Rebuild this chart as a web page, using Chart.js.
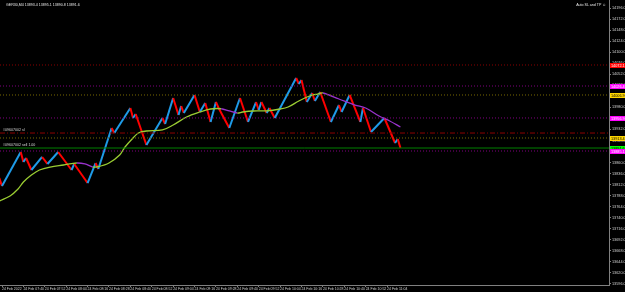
<!DOCTYPE html>
<html>
<head>
<meta charset="utf-8">
<script src="https://cdn.jsdelivr.net/npm/chart.js@4.4.1/dist/chart.umd.min.js"></script>
<style>
  html,body{margin:0;padding:0;background:#000;}
  #wrap{position:relative;width:625px;height:292px;overflow:hidden;}
  .hdr{position:absolute;top:3px;font:3.6px 'Liberation Sans',sans-serif;color:#e6e6e6;white-space:nowrap;}
</style>
</head>
<body>
<div id="wrap">
  <canvas id="chart" width="625" height="292"></canvas>
  <div class="hdr" style="left:6px">GER30,M4 13893.4 13895.1 13890.8 13891.6</div>
  <div class="hdr" style="right:19px">Auto SL and TP &#9786;</div>
</div>
<script>
// ---------- Data ----------
const timeLabels = [
  '24 Feb 2022', '24 Feb 07:40', '24 Feb 07:52', '24 Feb 08:04', '24 Feb 08:16',
  '24 Feb 08:28', '24 Feb 08:40', '24 Feb 08:52', '24 Feb 09:04', '24 Feb 09:16',
  '24 Feb 09:28', '24 Feb 09:40', '24 Feb 09:52', '24 Feb 10:04', '24 Feb 10:16',
  '24 Feb 10:28', '24 Feb 10:40', '24 Feb 10:52', '24 Feb 11:04'
];

const priceTicks = [
  14196.0, 14172.0, 14148.0, 14124.0, 14100.0, 14076.0, 14052.0, 14028.0, 14004.0,
  13980.0, 13956.0, 13932.0, 13908.0, 13884.0, 13860.0, 13836.0, 13812.0, 13788.0,
  13764.0, 13740.0, 13716.0, 13692.0, 13668.0, 13644.0, 13620.0, 13596.0
];

// renko zigzag turning points: bar index / price
const zigBars = [
  0, 1, 8, 9, 10, 12, 16, 18, 22, 27, 28, 33, 36, 37, 42, 43, 49, 50, 51, 55,
  61, 62, 65, 67, 68, 69, 73, 75, 77, 79, 81, 82, 86, 90, 93, 96, 97, 98, 100, 101,
  103, 111, 112, 113, 115, 117, 118, 120, 124, 127, 128, 131, 135, 136, 139, 144, 148, 149, 150
];
const zigPrices = [
  13826.4, 13809.0, 13882.9, 13861.2, 13869.9, 13843.8, 13872.1, 13856.9, 13882.9, 13843.8,
  13856.9, 13815.5, 13859.0, 13846.0, 13935.1, 13924.2, 13978.6, 13956.9, 13965.6, 13898.2,
  13956.9, 13943.8, 14000.3, 13963.4, 13982.9, 13967.7, 14006.9, 13969.9, 13989.5, 13948.2,
  13991.6, 13978.6, 13935.1, 14000.3, 13948.2, 13991.6, 13974.3, 13991.6, 13967.7, 13978.6,
  13956.9, 14043.8, 14030.8, 14039.5, 13991.6, 14011.2, 13993.8, 14013.4, 13948.2, 13985.1,
  13969.9, 14006.9, 13948.2, 13978.6, 13926.4, 13956.9, 13902.5, 13911.2, 13891.6
];

// moving average
const maBars = [
  0, 4, 7, 9, 12, 15, 19, 24, 29, 32, 35, 37, 41, 45, 47, 50, 52, 55, 61, 65,
  70, 75, 79, 83, 86, 89, 91, 95, 100, 105, 108, 112, 116, 119, 121, 127, 133, 137, 142, 146, 150
];
const maPrices = [
  13776.4, 13787.3, 13802.5, 13817.7, 13832.9, 13843.8, 13850.3, 13854.7, 13859.0, 13856.9,
  13850.3, 13851.0, 13859.0, 13876.4, 13893.8, 13913.4, 13924.2, 13928.6, 13930.8, 13941.6,
  13959.0, 13969.9, 13976.4, 13977.0, 13972.1, 13967.7, 13969.9, 13972.1, 13972.5, 13976.4,
  13980.8, 13993.8, 14004.7, 14009.0, 14011.2, 13998.2, 13985.1, 13978.6, 13961.2, 13950.3, 13937.3
];

// horizontal levels (order / sl / tp lines)
const levelPrices = [14072.1, 14026.4, 14006.9, 13956.9, 13924.2, 13913.4, 13891.6, 13885.1];
const orderNames = ['', '', '', '', '#09607002 sl', '', '#09607002 sell 1.00', ''];

// ---------- Styles ----------
const levelStyles = [
  {line: '#8b0000', dash: [1, 2], box: '#ff0000', text: '#ffffff'},
  {line: '#800080', dash: [1, 2], box: '#ff00ff', text: '#ffffff'},
  {line: '#7a6a00', dash: [1, 2], box: '#ffd700', text: '#000000'},
  {line: '#800080', dash: [1, 2], box: '#ff00ff', text: '#ffffff'},
  {line: '#8b0000', dash: [5, 2, 1, 2], box: null, text: null},
  {line: '#7a6a00', dash: [1, 2], box: '#ffd700', text: '#000000'},
  {line: '#008000', dash: [], box: '#00ff00', text: '#000000'},
  {line: '#800080', dash: [1, 2], box: '#ff00ff', text: '#ffffff'}
];
const UP = '#1e9be8', DOWN = '#ff0000';
const MA_UP = '#9acd32', MA_DOWN = '#9932cc';
const FONT = "'Liberation Sans', sans-serif";
const X_MIN = 0.25, X_MAX = 228;

const levelSets = levelPrices.map((p, i) => ({
  data: [{x: X_MIN, y: p}, {x: X_MAX, y: p}],
  borderColor: levelStyles[i].line,
  borderDash: levelStyles[i].dash,
  borderWidth: 1,
  pointRadius: 0
}));

const levelBoxes = {
  id: 'levelBoxes',
  afterDraw(chart){
    const {ctx, chartArea, scales} = chart;
    ctx.save();
    ctx.font = '3.8px ' + FONT;
    ctx.textBaseline = 'middle';
    levelPrices.forEach((p, i) => {
      const st = levelStyles[i];
      const y = Math.round(scales.y.getPixelForValue(p));
      if (st.box){
        ctx.fillStyle = st.box;
        ctx.fillRect(chartArea.right + 1, y - 2, 15, 5);
        ctx.fillStyle = st.text;
        ctx.textAlign = 'left';
        ctx.fillText(p.toFixed(1), chartArea.right + 2, y + 0.5);
      }
      if (orderNames[i]){
        ctx.fillStyle = '#d8d8d8';
        ctx.textAlign = 'left';
        ctx.font = '3.6px ' + FONT;
        ctx.fillText(orderNames[i], chartArea.left + 3, y - 3);
        ctx.font = '3.8px ' + FONT;
      }
    });
    ctx.restore();
  }
};

new Chart(document.getElementById('chart').getContext('2d'), {
  type: 'line',
  data: {
    datasets: [
      ...levelSets,
      {
        data: maBars.map((b, i) => ({x: b, y: maPrices[i]})),
        borderWidth: 1.3,
        pointRadius: 0,
        tension: 0.35,
        borderColor: MA_UP,
        segment: {borderColor: c => c.p1.parsed.y >= c.p0.parsed.y ? MA_UP : MA_DOWN}
      },
      {
        data: zigBars.map((b, i) => ({x: b, y: zigPrices[i]})),
        borderWidth: 2,
        pointRadius: 0,
        tension: 0,
        borderColor: UP,
        segment: {borderColor: c => c.p1.parsed.y > c.p0.parsed.y ? UP : DOWN}
      }
    ]
  },
  options: {
    responsive: false,
    animation: false,
    events: [],
    layout: {padding: 0},
    plugins: {legend: {display: false}, tooltip: {enabled: false}},
    scales: {
      x: {
        type: 'linear',
        min: X_MIN,
        max: X_MAX,
        afterBuildTicks: s => { s.ticks = timeLabels.map((t, i) => ({value: 1 + i * 8})); },
        afterFit: s => { s.height = 7; s.paddingLeft = 0; s.paddingRight = 0; },
        grid: {drawOnChartArea: false, drawTicks: true, tickLength: 2, color: '#808080'},
        border: {color: '#808080'},
        ticks: {
          autoSkip: false, maxRotation: 0, align: 'start', padding: 0,
          color: '#d0d0d0', font: {size: 3.5, family: FONT},
          callback: (v, i) => timeLabels[i]
        }
      },
      y: {
        position: 'right',
        min: 13593.8,
        max: 14213.4,
        afterBuildTicks: s => { s.ticks = priceTicks.map(v => ({value: v})); },
        afterFit: s => { s.width = 16; s.paddingTop = 0; s.paddingBottom = 0; },
        grid: {drawOnChartArea: false, drawTicks: true, tickLength: 2, color: '#808080'},
        border: {color: '#808080'},
        ticks: {
          padding: 1, color: '#d0d0d0', font: {size: 3.8, family: FONT},
          callback: v => Number(v).toFixed(1)
        }
      }
    }
  },
  plugins: [levelBoxes]
});
</script>
</body>
</html>
